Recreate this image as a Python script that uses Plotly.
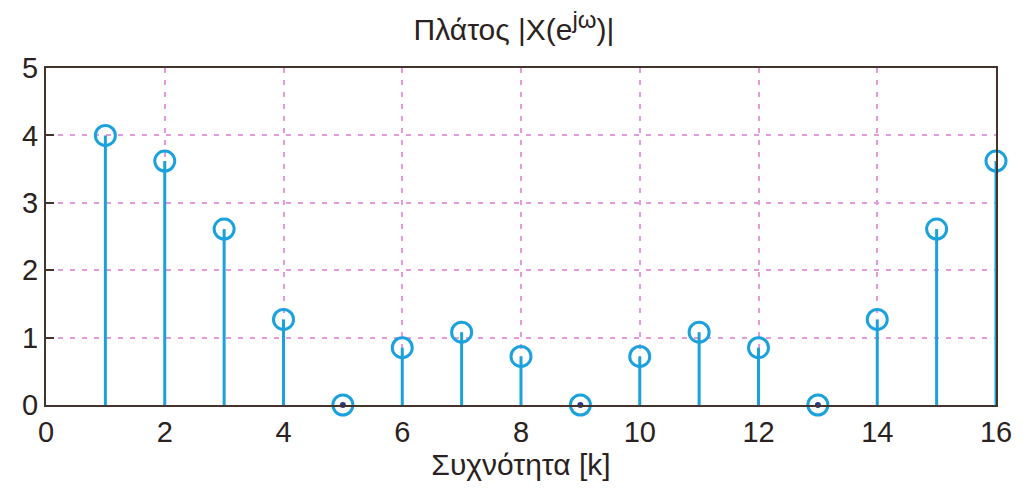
import plotly.graph_objects as go

k = list(range(1, 17))
magnitude = [4.0, 3.62, 2.61, 1.27, 0.0, 0.85, 1.08, 0.72, 0.0, 0.72, 1.08, 0.85, 0.0, 1.27, 2.61, 3.62]
x_ticks = [0, 2, 4, 6, 8, 10, 12, 14, 16]
y_ticks = [0, 1, 2, 3, 4, 5]

stem_color = "#1ba1dc"
frame_color = "#43352e"
grid_color = "#e49add"
text_color = "#2a2220"
font_family = "Liberation Sans, Arial, sans-serif"

fig = go.Figure()
fig.add_trace(go.Scatter(
    x=k, y=magnitude, mode="markers",
    marker=dict(symbol="circle-open", size=20, color=stem_color, line=dict(width=3, color=stem_color)),
    error_y=dict(type="data", symmetric=False, array=[0] * len(k), arrayminus=magnitude,
                 width=0, thickness=3, color=stem_color),
    cliponaxis=False, showlegend=False,
))
zero_k = [kk for kk, m in zip(k, magnitude) if m == 0]
fig.add_trace(go.Scatter(
    x=zero_k, y=[0] * len(zero_k), mode="markers",
    marker=dict(symbol="circle", size=6, color="#2a3a8a"),
    cliponaxis=False, showlegend=False,
))

axis_common = dict(
    showline=True, linecolor=frame_color, linewidth=2, mirror=True,
    showgrid=True, gridcolor=grid_color, griddash="5px,7px", gridwidth=2,
    zeroline=False,
    tickfont=dict(family=font_family, size=29, color=text_color),
)
fig.update_layout(
    width=1028, height=495,
    margin=dict(l=46, r=32, t=68, b=90),
    paper_bgcolor="white", plot_bgcolor="white",
    title=dict(text="Πλάτος |X(e<sup><span style='font-size:24px'>jω</span></sup>)|",
               x=0.5, xanchor="center", y=0.94, yanchor="middle",
               font=dict(family=font_family, size=30, color=text_color)),
    xaxis=dict(range=[0, 16], tickvals=x_ticks, ticks="", **axis_common,
               title=dict(text="Συχνότητα [k]", font=dict(family=font_family, size=30, color=text_color), standoff=2)),
    yaxis=dict(range=[0, 5], tickvals=y_ticks, ticks="inside", ticklen=8, tickwidth=2, tickcolor=frame_color,
               **axis_common),
)
fig.write_html("out.html")
